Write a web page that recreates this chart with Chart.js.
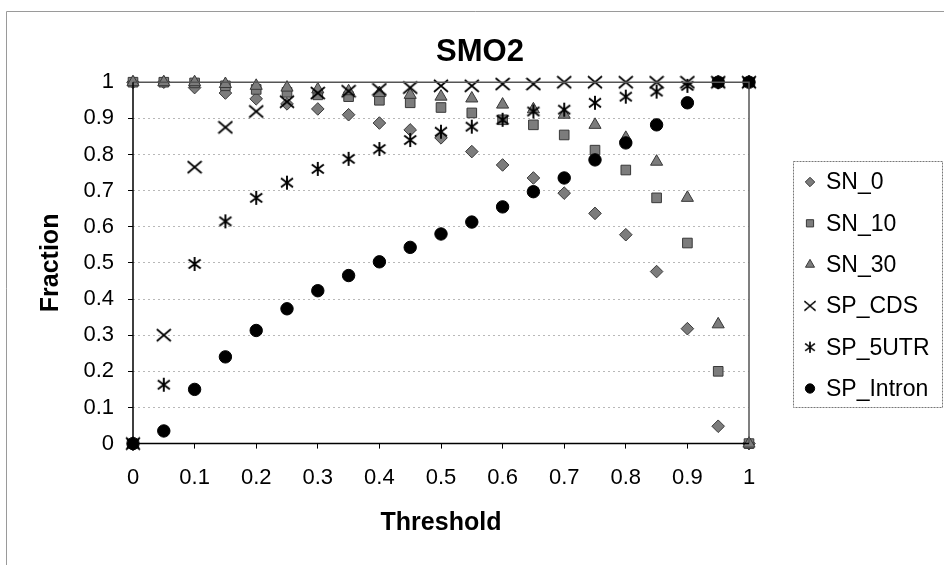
<!DOCTYPE html>
<html>
<head>
<meta charset="utf-8">
<script src="https://cdn.jsdelivr.net/npm/chart.js@4.4.1/dist/chart.umd.min.js"></script>
<style>
  html, body { margin: 0; padding: 0; background: #fff; }
  canvas { display: block; }
</style>
</head>
<body>
<canvas id="chart" width="944" height="565"></canvas>
<script>
// Values
const thresholds = [0, 0.05, 0.1, 0.15, 0.2, 0.25, 0.3, 0.35, 0.4, 0.45, 0.5,
  0.55, 0.6, 0.65, 0.7, 0.75, 0.8, 0.85, 0.9, 0.95, 1];
const xTicks = [0, 0.1, 0.2, 0.3, 0.4, 0.5, 0.6, 0.7, 0.8, 0.9, 1];
const yTicks = [0, 0.1, 0.2, 0.3, 0.4, 0.5, 0.6, 0.7, 0.8, 0.9, 1];

const sn0 = [1, 1, 0.985, 0.97, 0.954, 0.94, 0.926, 0.91, 0.887, 0.868, 0.846,
  0.808, 0.771, 0.735, 0.693, 0.637, 0.578, 0.476, 0.318, 0.048, 0];
const sn10 = [1, 1, 0.998, 0.99, 0.98, 0.972, 0.965, 0.96, 0.95, 0.943, 0.93,
  0.915, 0.896, 0.882, 0.854, 0.812, 0.757, 0.68, 0.555, 0.2, 0];
const sn30 = [1, 1, 1, 0.995, 0.99, 0.985, 0.98, 0.975, 0.97, 0.965, 0.96,
  0.955, 0.938, 0.925, 0.91, 0.882, 0.846, 0.78, 0.68, 0.33, 0];
const spCds = [0, 0.3, 0.765, 0.875, 0.919, 0.946, 0.97, 0.975, 0.98, 0.985, 0.99,
  0.99, 0.995, 0.995, 1, 1, 1, 1, 1, 1, 1];
const sp5utr = [0, 0.163, 0.497, 0.615, 0.68, 0.722, 0.76, 0.788, 0.815, 0.84, 0.863,
  0.877, 0.896, 0.919, 0.924, 0.943, 0.96, 0.974, 0.99, 1, 1];
const spIntron = [0, 0.035, 0.15, 0.24, 0.313, 0.373, 0.423, 0.465, 0.503, 0.543, 0.58,
  0.613, 0.655, 0.697, 0.735, 0.785, 0.832, 0.882, 0.943, 1, 1];

const FONT = "'Liberation Sans', Arial, sans-serif";
Chart.defaults.font.family = FONT;
Chart.defaults.color = "#000";

// custom marker images for the cross and asterisk series
function makeMarker(size, draw) {
  const c = document.createElement("canvas");
  c.width = size;
  c.height = size;
  const g = c.getContext("2d");
  g.translate(size / 2, size / 2);
  g.strokeStyle = "#000";
  g.lineCap = "butt";
  draw(g);
  return c;
}
const crossMark = makeMarker(16, (g) => {
  g.lineWidth = 1.7;
  g.beginPath();
  g.moveTo(-7, -6); g.lineTo(7, 6);
  g.moveTo(-7, 6); g.lineTo(7, -6);
  g.stroke();
});
const starMark = makeMarker(16, (g) => {
  g.lineWidth = 1.9;
  g.beginPath();
  g.moveTo(-6, -4.5); g.lineTo(6, 4.5);
  g.moveTo(-6, 4.5); g.lineTo(6, -4.5);
  g.moveTo(0, -7); g.lineTo(0, 7);
  g.stroke();
});

const toPoints = (vals) => thresholds.map((t, i) => ({ x: t, y: vals[i] }));

const gray = "#7c7c7c";
const grayEdge = "#383838";

const datasets = [
  { label: "SN_0", data: toPoints(sn0), pointStyle: "rectRot", pointRadius: 6.3,
    backgroundColor: gray, borderColor: grayEdge, borderWidth: 1, order: 6 },
  { label: "SN_10", data: toPoints(sn10), pointStyle: "rect", pointRadius: 6.8,
    backgroundColor: gray, borderColor: grayEdge, borderWidth: 1, order: 5 },
  { label: "SN_30", data: toPoints(sn30), pointStyle: "triangle", pointRadius: 7,
    backgroundColor: gray, borderColor: grayEdge, borderWidth: 1, order: 4 },
  { label: "SP_CDS", data: toPoints(spCds), pointStyle: crossMark, pointRadius: 7,
    backgroundColor: "#000", borderColor: "#000", borderWidth: 1, order: 3 },
  { label: "SP_5UTR", data: toPoints(sp5utr), pointStyle: starMark, pointRadius: 7,
    backgroundColor: "#000", borderColor: "#000", borderWidth: 1, order: 2 },
  { label: "SP_Intron", data: toPoints(spIntron), pointStyle: "circle", pointRadius: 6.2,
    backgroundColor: "#000", borderColor: "#000", borderWidth: 1, order: 1 },
];
datasets.forEach((d) => { d.showLine = false; d.clip = false; d.pointHoverRadius = d.pointRadius; });

// plot frame, outer chart border and legend box
const framePlugin = {
  id: "frame",
  afterDatasetsDraw(chart) {
    const { ctx, chartArea: a } = chart;
    ctx.save();
    ctx.lineWidth = 1.5;
    ctx.strokeStyle = "#555";
    ctx.beginPath();
    ctx.moveTo(a.left, a.top); ctx.lineTo(a.right, a.top); ctx.lineTo(a.right, a.bottom);
    ctx.stroke();
    ctx.strokeStyle = "#000";
    ctx.beginPath();
    ctx.moveTo(a.left, a.top); ctx.lineTo(a.left, a.bottom); ctx.lineTo(a.right, a.bottom);
    ctx.stroke();
    ctx.restore();
  },
  afterDraw(chart) {
    const ctx = chart.ctx;
    ctx.save();
    // outer chart border
    ctx.strokeStyle = "#9a9a9a";
    ctx.lineWidth = 1;
    ctx.beginPath();
    ctx.moveTo(6.5, 565); ctx.lineTo(6.5, 11.5); ctx.lineTo(944, 11.5);
    ctx.stroke();
    // legend
    ctx.strokeStyle = "#777";
    ctx.setLineDash([2, 1]);
    ctx.strokeRect(793.5, 161.5, 149, 246);
    ctx.setLineDash([]);
    ctx.font = "23px " + FONT;
    ctx.textBaseline = "middle";
    ctx.textAlign = "left";
    chart.data.datasets.forEach((ds, i) => {
      const y = 182 + i * 41.3;
      const x = 810;
      if (ds.pointStyle instanceof HTMLCanvasElement) {
        const s = ds.pointStyle.width * 0.8;
        ctx.drawImage(ds.pointStyle, x - s / 2, y - s / 2, s, s);
      } else {
        ctx.fillStyle = ds.backgroundColor;
        ctx.strokeStyle = ds.borderColor;
        ctx.lineWidth = 1;
        Chart.helpers.drawPoint(ctx, { pointStyle: ds.pointStyle, rotation: 0,
          radius: ds.pointRadius * 0.75, borderWidth: 1 }, x, y);
      }
      ctx.fillStyle = "#000";
      ctx.fillText(ds.label, 826, y + 1);
    });
    ctx.restore();
  },
};

new Chart(document.getElementById("chart"), {
  type: "scatter",
  data: { datasets },
  options: {
    responsive: false,
    animation: false,
    events: [],
    layout: { padding: { top: 24, left: 16, right: 0, bottom: 27 } },
    plugins: {
      legend: { display: false },
      tooltip: { enabled: false },
      title: {
        display: true,
        text: "SMO2",
        font: { size: 31, weight: "bold" },
        color: "#000",
        padding: { top: 10, bottom: 11 },
      },
    },
    scales: {
      x: {
        type: "linear",
        min: 0,
        max: 1,
        afterBuildTicks: (s) => { s.ticks = xTicks.map((v) => ({ value: v })); },
        ticks: { font: { size: 22 }, color: "#000", padding: 16, maxRotation: 0,
          callback: (v) => String(v) },
        grid: { drawOnChartArea: false, drawTicks: true, tickLength: 5, tickColor: "#000", tickWidth: 1 },
        border: { display: false },
        title: { display: true, text: "Threshold", font: { size: 25, weight: "bold" },
          color: "#000", padding: { top: 1, bottom: 0 } },
      },
      y: {
        type: "linear",
        min: 0,
        max: 1,
        afterBuildTicks: (s) => { s.ticks = yTicks.map((v) => ({ value: v })); },
        afterFit: (s) => { s.width = 117; },
        ticks: { font: { size: 22 }, color: "#000", padding: 14,
          callback: (v) => String(v) },
        grid: { color: "rgba(0,0,0,0.28)", lineWidth: 1, tickLength: 5, tickColor: "#000",
          tickWidth: 1, tickBorderDash: [] },
        border: { display: false, dash: [2, 3] },
        title: { display: true, text: "Fraction", font: { size: 25, weight: "bold" },
          color: "#000", padding: { top: 20, bottom: 0 } },
      },
      y2: {
        type: "linear",
        position: "right",
        min: 0,
        max: 1,
        afterFit: (s) => { s.width = 195; },
        ticks: { display: false },
        grid: { display: false },
        border: { display: false },
      },
    },
  },
  plugins: [framePlugin],
});
</script>
</body>
</html>
